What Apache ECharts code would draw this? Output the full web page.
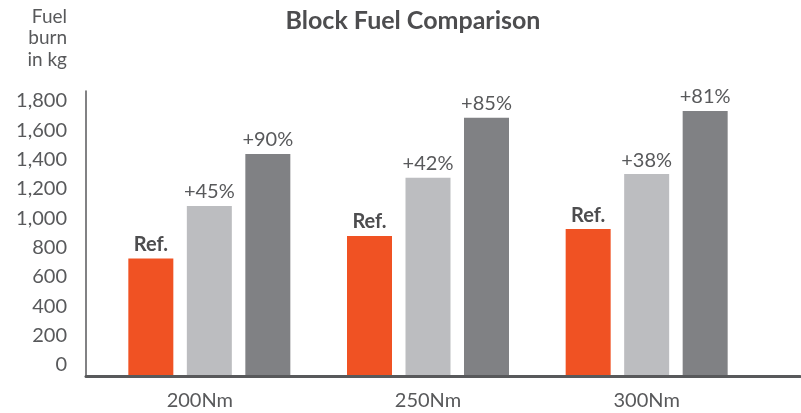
<!DOCTYPE html>
<html>
<head>
<meta charset="utf-8">
<script src="https://cdn.jsdelivr.net/npm/echarts@6/dist/echarts.min.js"></script>
<style>
  html, body { margin: 0; padding: 0; background: #fff; }
  #chart { width: 801px; height: 413px; }
</style>
</head>
<body>
<div id="chart"></div>
<script>
// Block fuel per range, in kg
const categories = ['200Nm', '250Nm', '300Nm'];
const refFuel    = [795, 948, 995];
const midFuel    = [1152, 1345, 1370];
const highFuel   = [1507, 1754, 1800];
const yTicks     = { min: 0, max: 1800, step: 200 };

const FONT = 'Lato';
const TEXT = '#58595b';

// share over the reference aircraft, e.g. "+45%"
function pctLabel(values) {
  return function (p) {
    const r = refFuel[p.dataIndex];
    return '+' + Math.round((values[p.dataIndex] / r - 1) * 100) + '%';
  };
}

const chart = echarts.init(document.getElementById('chart'), null, { renderer: 'canvas' });

const barBase = {
  type: 'bar',
  xAxisIndex: 0,
  yAxisIndex: 0,
  barWidth: 45,
  barGap: '30%',
  silent: true
};

chart.setOption({
  animation: false,
  textStyle: { fontFamily: FONT },
  title: {
    text: 'Block Fuel Comparison',
    left: 408,
    textAlign: 'center',
    top: 3,
    textStyle: { fontFamily: FONT, fontWeight: 'bold', fontSize: 25, color: '#4d4d4f' }
  },
  graphic: [{
    type: 'text',
    x: 67,
    y: 6,
    style: {
      text: 'Fuel\nburn\nin kg',
      align: 'right',
      font: '19px Lato',
      lineHeight: 21.5,
      fill: TEXT
    }
  }],
  grid: [
    { left: 100, right: 45, top: 111, bottom: 38 },
    { left: 86, right: 1, top: 91, bottom: 36.5 }
  ],
  xAxis: [
    {
      type: 'category',
      gridIndex: 0,
      data: categories,
      axisLine: { show: false },
      axisTick: { show: false },
      axisLabel: {
        margin: 16,
        color: TEXT,
        fontFamily: FONT,
        fontSize: 20,
        formatter: function (v, i) { return i === 0 ? '{a|' + v + '}' : v; },
        rich: { a: { fontFamily: FONT, fontSize: 20, color: TEXT, padding: [0, 19, 0, 0] } }
      }
    },
    {
      type: 'value',
      gridIndex: 1,
      min: 0, max: 1,
      axisLine: { show: true, lineStyle: { color: '#58595b', width: 3 } },
      axisTick: { show: false },
      axisLabel: { show: false },
      splitLine: { show: false }
    }
  ],
  yAxis: [
    {
      type: 'value',
      gridIndex: 0,
      min: yTicks.min,
      max: yTicks.max,
      interval: yTicks.step,
      axisLine: { show: false },
      axisTick: { show: false },
      splitLine: { show: false },
      axisLabel: {
        margin: 33,
        verticalAlign: 'bottom',
        color: TEXT,
        fontFamily: FONT,
        fontSize: 20,
        formatter: function (v) { return v.toLocaleString('en-US'); }
      }
    },
    {
      type: 'value',
      gridIndex: 1,
      min: 0, max: 1,
      axisLine: { show: true, lineStyle: { color: '#58595b', width: 1.5 } },
      axisTick: { show: false },
      axisLabel: { show: false },
      splitLine: { show: false }
    }
  ],
  series: [
    Object.assign({}, barBase, {
      name: 'Ref',
      data: refFuel,
      itemStyle: { color: '#f05223' },
      label: {
        show: true, position: 'top', distance: 4,
        formatter: 'Ref.',
        fontFamily: FONT, fontWeight: 'bold', fontSize: 20, color: '#4d4d4f'
      }
    }),
    Object.assign({}, barBase, {
      name: 'Mid',
      data: midFuel,
      itemStyle: { color: '#bcbdc0' },
      label: {
        show: true, position: 'top', distance: 4,
        formatter: pctLabel(midFuel),
        fontFamily: FONT, fontSize: 20, color: TEXT
      }
    }),
    Object.assign({}, barBase, {
      name: 'High',
      data: highFuel,
      itemStyle: { color: '#808184' },
      label: {
        show: true, position: 'top', distance: 4,
        formatter: pctLabel(highFuel),
        fontFamily: FONT, fontSize: 20, color: TEXT
      }
    })
  ]
});
</script>
</body>
</html>
